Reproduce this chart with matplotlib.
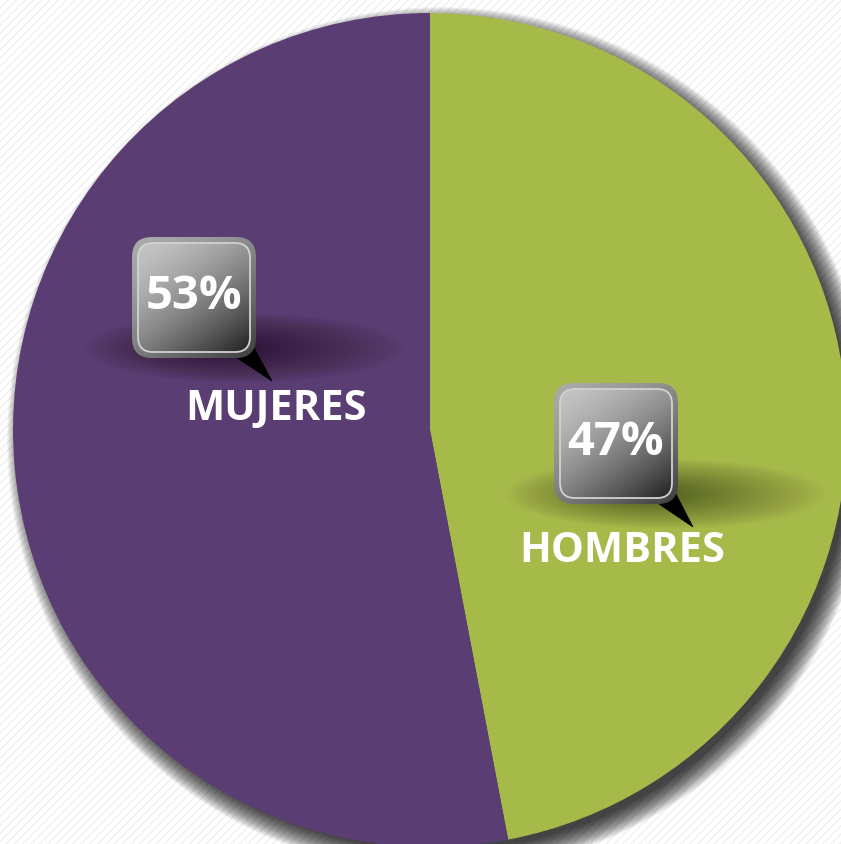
import numpy as np
import matplotlib
matplotlib.use("Agg")
import matplotlib.pyplot as plt
from matplotlib.patches import FancyBboxPatch, Polygon, Circle, Ellipse, Rectangle

categories = ["HOMBRES", "MUJERES"]
values = [47, 53]
pct_labels = ["47%", "53%"]
colors = ["#A6BA4A", "#5A3D72"]

W, H = 841, 844
fig = plt.figure(figsize=(W / 100, H / 100), dpi=100)
ax = fig.add_axes([0, 0, 1, 1])

def Y(p):
    return H - p

# background with faint diagonal dotted pattern
plt.rcParams['hatch.color'] = '#ececec'
plt.rcParams['hatch.linewidth'] = 0.8
ax.add_patch(Rectangle((0, 0), W, H, facecolor="white", edgecolor="#ececec",
                       hatch="////", lw=0, zorder=0))

cx, cy, R = 430, Y(430), 417

# shadow of the pie (soft)
for i in range(30):
    ax.add_patch(Circle((cx + 10, cy - 10), R + 16 - i * 0.8, facecolor="#000000",
                        alpha=0.04, lw=0, zorder=1))

ax.pie(values, colors=colors, startangle=90, counterclock=False,
       radius=R, center=(cx, cy), frame=True,
       wedgeprops=dict(linewidth=0, zorder=2))
ax.set_xlim(0, W)
ax.set_ylim(0, H)
ax.set_aspect("equal")
ax.axis("off")

def gradient_box(x0, y0, x1, y1, rad, c_light, c_dark, zorder, edge=None, lw=0):
    patch = FancyBboxPatch((x0 + rad, Y(y1) + rad), (x1 - x0) - 2 * rad, (y1 - y0) - 2 * rad,
                           boxstyle=f"round,pad={rad}", facecolor="none",
                           edgecolor="none", lw=0, zorder=zorder)
    ax.add_patch(patch)
    n = 200
    gx, gy = np.meshgrid(np.linspace(0, 1, n), np.linspace(0, 1, n))
    t = np.clip((gx * 0.6 + gy * 0.8) / 1.4, 0, 1) ** 1.5
    cl = np.array(matplotlib.colors.to_rgb(c_light))
    cd = np.array(matplotlib.colors.to_rgb(c_dark))
    img = cl[None, None, :] * (1 - t[..., None]) + cd[None, None, :] * t[..., None]
    im = ax.imshow(img, extent=(x0, x1, Y(y1), Y(y0)), origin="upper",
                   zorder=zorder, interpolation="bilinear")
    im.set_clip_path(patch)
    if edge:
        ax.add_patch(FancyBboxPatch((x0 + rad, Y(y1) + rad), (x1 - x0) - 2 * rad,
                                    (y1 - y0) - 2 * rad, boxstyle=f"round,pad={rad}",
                                    facecolor="none", edgecolor=edge, lw=lw,
                                    zorder=zorder + 0.1))

def callout(bx0, by0, bx1, by1, tip, text):
    # soft diffuse shadow
    for i in range(40):
        ax.add_patch(Ellipse(((bx1 + bx0) / 2 + 50 - i * 0.5, Y(by1 - 10)),
                             320 - i * 7, 70 - i * 1.5,
                             facecolor="black", alpha=0.012, lw=0, zorder=3))
    # pointer
    ax.add_patch(Polygon([(bx1 - 28, Y(by1 - 6)), (bx1 - 4, Y(by1 - 14)),
                          (tip[0], Y(tip[1]))], closed=True, facecolor="black",
                         edgecolor="black", lw=0.5, zorder=4))
    gradient_box(bx0, by0, bx1, by1, 20, "#aaaaaa", "#3c3c3c", 5)
    gradient_box(bx0 + 6, by0 + 6, bx1 - 6, by1 - 6, 15, "#c4c4c4", "#202020", 6,
                 edge="#d2d2d2", lw=1.3)
    ax.text((bx0 + bx1) / 2, Y((by0 + by1) / 2 - 1), text, ha="center", va="center",
            color="white", fontsize=34, fontweight="bold", family="Open Sans", zorder=8)

callout(132, 237, 256, 358, (272, 381), pct_labels[1])
callout(554, 383, 678, 504, (693, 527), pct_labels[0])

ax.text(276, Y(410), categories[1], ha="center", va="center", color="white",
        fontsize=30, fontweight="bold", family="Open Sans", zorder=8)
ax.text(622, Y(551), categories[0], ha="center", va="center", color="white",
        fontsize=30, fontweight="bold", family="Open Sans", zorder=8)

fig.savefig("out.png", dpi=100)
